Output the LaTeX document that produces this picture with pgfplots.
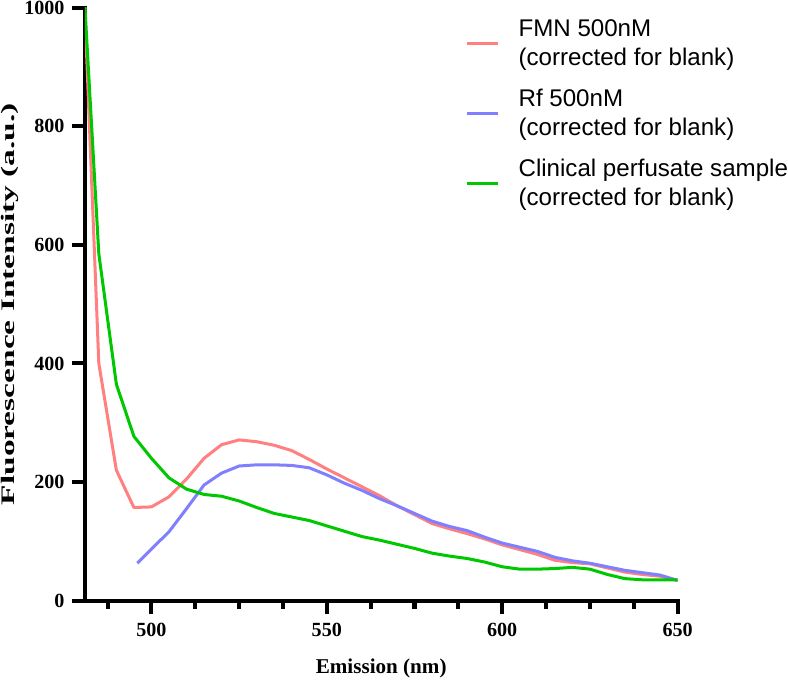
\documentclass[border=0pt]{standalone}
\usepackage{fontspec}
\setmainfont{Liberation Serif}
\newfontfamily\legsans{Liberation Sans}
\usepackage{graphicx}
\usepackage{pgfplots}
\pgfplotsset{compat=1.18}
\definecolor{cfmn}{RGB}{255,128,128}
\definecolor{crf}{RGB}{128,128,255}
\definecolor{cclin}{RGB}{0,200,0}
\begin{document}
\begin{tikzpicture}
\begin{axis}[
  scale only axis, width=590pt, height=590pt,
  xmin=481, xmax=650, ymin=0, ymax=1000,
  axis x line*=bottom, axis y line*=left,
  axis line style={line width=4pt, -, line cap=rect},
  xtick={500,550,600,650},
  minor xtick={487.5,512.5,525,537.5,562.5,575,587.5,612.5,625,637.5},
  ytick={0,200,400,600,800,1000},
  tick align=outside,
  major tick length=13pt, minor tick length=8pt,
  tick style={black, line width=4pt},
  tick label style={font=\fontsize{20}{22}\selectfont\bfseries, inner sep=1pt},
  xticklabel style={yshift=-8pt},
  yticklabel style={xshift=-6pt},
  /pgf/number format/assume math mode=true,
  /pgf/number format/set thousands separator={},
  xlabel={Emission (nm)},
  ylabel={\scalebox{1.75}[1]{Fluorescence Intensity (a.u.)}},
  every axis y label/.style={at={(axis description cs:-0.119,0.5)}, rotate=90, anchor=base, inner sep=1pt},
  every axis x label/.style={at={(axis description cs:0.5,-0.1237)}, anchor=base, inner sep=1pt},
  xlabel style={font=\fontsize{21}{24}\selectfont\bfseries},
  ylabel style={font=\fontsize{19}{22}\selectfont\bfseries},
  legend style={draw=none, fill=none, at={(rel axis cs:0.642,0.98)}, anchor=north west,
    inner sep=0pt, outer sep=0pt,
    font=\fontsize{24}{28.5}\selectfont\legsans, nodes={inner sep=0pt},
    cells={anchor=west, align=left}, row sep=22.5pt, column sep=19pt},
  legend image code/.code={\draw[#1, line width=3pt] (0pt,0pt) -- (31pt,0pt);},
  every axis plot/.append style={line width=3pt, line join=round, no marks},
]
\addplot[cfmn] coordinates {
(480,1150) (485,400) (490,220) (495,157) (500,158) (505,175) (510,205) (515,240)
(520,263) (525,271) (530,268) (535,262) (540,253) (545,238) (550,222) (555,207)
(560,192) (565,177) (570,160) (575,145) (580,130) (585,121) (590,113) (595,104)
(600,94) (605,86) (610,78) (615,68) (620,64) (625,62) (630,55) (635,48)
(640,44) (645,41) (650,34)};
\addlegendentry{FMN 500nM\\(corrected for blank)}
\addplot[crf] coordinates {
(496,63) (500,87) (505,116) (510,155) (515,195) (520,215) (525,227) (530,229)
(535,229) (540,228) (545,224) (550,212) (555,198) (560,186) (565,172) (570,160)
(575,147) (580,134) (585,125) (590,118) (595,107) (600,97) (605,90) (610,83)
(615,73) (620,67) (625,63) (630,57) (635,51) (640,47) (645,43) (650,34)};
\addlegendentry{Rf 500nM\\(corrected for blank)}
\addplot[cclin] coordinates {
(480,1110) (485,585) (490,365) (495,277) (500,240) (505,207) (510,188) (515,179)
(520,176) (525,168) (530,157) (535,147) (540,141) (545,135) (550,126) (555,117)
(560,108) (565,102) (570,95) (575,88) (580,80) (585,75) (590,71) (595,65)
(600,57) (605,53) (610,53) (615,54) (620,56) (625,53) (630,44) (635,37)
(640,35) (645,35) (650,35)};
\addlegendentry{Clinical perfusate sample\\(corrected for blank)}
\end{axis}
\end{tikzpicture}
\end{document}
